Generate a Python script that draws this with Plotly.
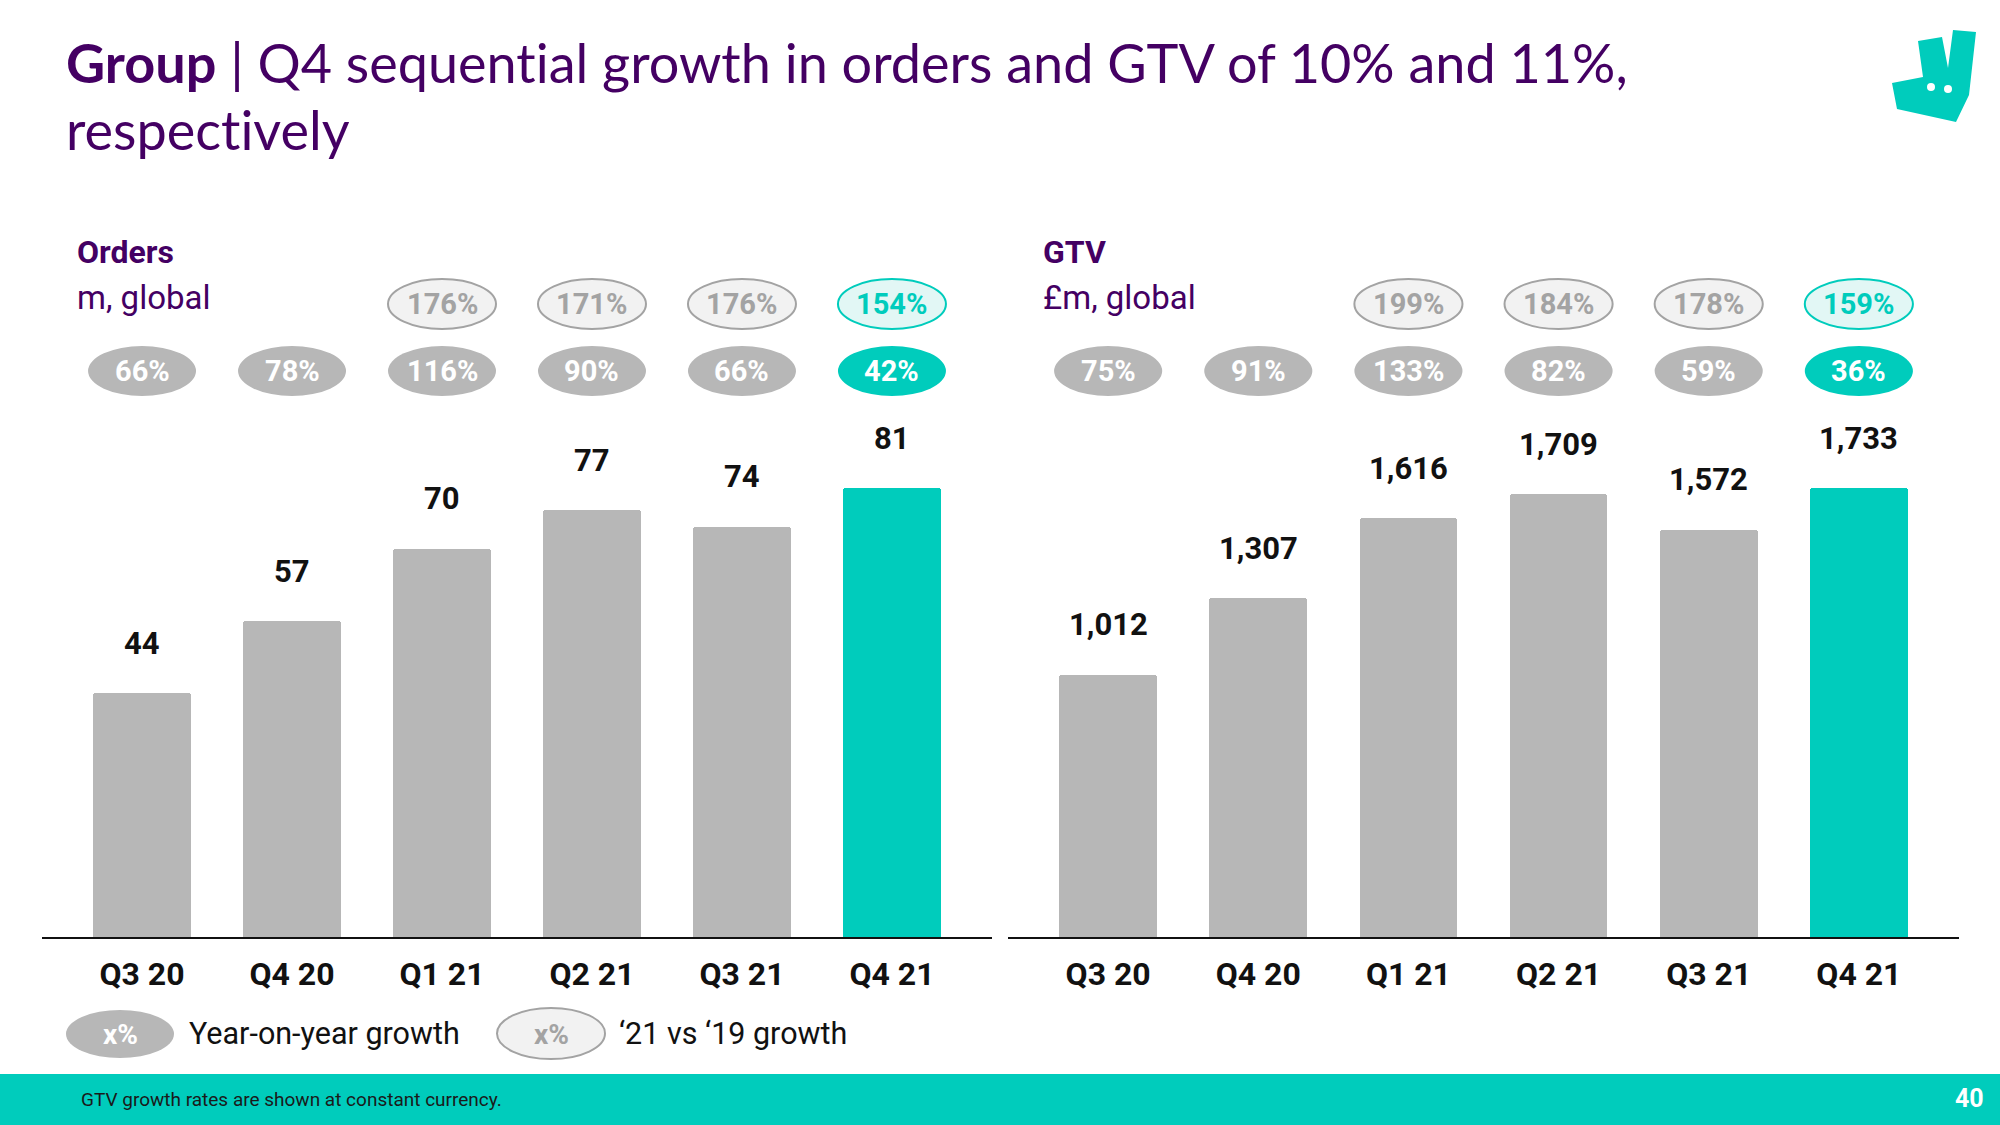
import plotly.graph_objects as go

# ---------------- data ----------------
quarters = ["Q3 20", "Q4 20", "Q1 21", "Q2 21", "Q3 21", "Q4 21"]
orders = [44, 57, 70, 77, 74, 81]
gtv = [1012, 1307, 1616, 1709, 1572, 1733]
orders_yoy = ["66%", "78%", "116%", "90%", "66%", "42%"]
orders_vs19 = [None, None, "176%", "171%", "176%", "154%"]
gtv_yoy = ["75%", "91%", "133%", "82%", "59%", "36%"]
gtv_vs19 = [None, None, "199%", "184%", "178%", "159%"]
highlight = [False, False, False, False, False, True]

# ---------------- styles ----------------
W, H = 2000, 1125
TEAL = "#00CCBC"
GREY_BAR = "#B7B7B7"
PURPLE = "#440063"
PILL_GREY = "#B7B7B7"
PILL_LIGHT = "#F2F2F2"
PILL_LINE = "#A3A3A3"
TEAL_LIGHT = "#E2F7F5"
FONT = "Roboto"

def px_x(p):
    return p / W

def px_y(p):
    return 1 - p / H

BASE_PX = 937
TOP_PX = 383
y_dom = [px_y(BASE_PX), px_y(TOP_PX)]
# bar scale: Q4 21 top at pixel 488
ord_max = orders[-1] * (BASE_PX - TOP_PX) / (BASE_PX - 488)
gtv_max = gtv[-1] * (BASE_PX - TOP_PX) / (BASE_PX - 488)

x_idx = list(range(len(quarters)))
xr = [-0.667, 5.667]

fig = go.Figure()
colors = [TEAL if h else GREY_BAR for h in highlight]

fig.add_trace(go.Bar(x=x_idx, y=orders, marker=dict(color=colors, line=dict(width=0), cornerradius=3),
                     width=0.65, xaxis="x", yaxis="y", hoverinfo="skip", showlegend=False))
fig.add_trace(go.Bar(x=x_idx, y=gtv, marker=dict(color=colors, line=dict(width=0), cornerradius=3),
                     width=0.65, xaxis="x2", yaxis="y2", hoverinfo="skip", showlegend=False))

annotations = []
shapes = []

def value_labels(vals, xa, ya, fmt):
    for i, v in enumerate(vals):
        annotations.append(dict(x=i, y=v, xref=xa, yref=ya, text=f"<b>{fmt(v)}</b>",
                                showarrow=False, yanchor="middle", yshift=50,
                                font=dict(family=FONT, size=31, color="#111111")))

value_labels(orders, "x", "y", lambda v: f"{v}")
value_labels(gtv, "x2", "y2", lambda v: f"{v:,}")

PILL_W = 0.72
def pills(yoy, vs19, xa):
    for i, (a, b) in enumerate(zip(yoy, vs19)):
        hl = highlight[i]
        # YoY pill
        cy, hh = px_y(371), 50 / H
        shapes.append(dict(type="circle", xref=xa, yref="paper", x0=i - PILL_W / 2, x1=i + PILL_W / 2,
                           y0=cy - hh / 2, y1=cy + hh / 2, fillcolor=TEAL if hl else PILL_GREY,
                           line=dict(width=0), layer="above"))
        annotations.append(dict(x=i, y=cy, xref=xa, yref="paper", text=f"<b>{a}</b>", showarrow=False,
                                font=dict(family=FONT, size=29, color="white"), yanchor="middle"))
        if b:
            cy2, hh2 = px_y(304), 50 / H
            shapes.append(dict(type="circle", xref=xa, yref="paper", x0=i - PILL_W / 2, x1=i + PILL_W / 2,
                               y0=cy2 - hh2 / 2, y1=cy2 + hh2 / 2,
                               fillcolor=TEAL_LIGHT if hl else PILL_LIGHT,
                               line=dict(width=2, color=TEAL if hl else PILL_LINE), layer="above"))
            annotations.append(dict(x=i, y=cy2, xref=xa, yref="paper", text=f"<b>{b}</b>", showarrow=False,
                                    font=dict(family=FONT, size=29, color=TEAL if hl else PILL_LINE),
                                    yanchor="middle"))

pills(orders_yoy, orders_vs19, "x")
pills(gtv_yoy, gtv_vs19, "x2")

# panel headers
def header(xpx, title, sub):
    annotations.append(dict(x=px_x(xpx), y=px_y(252), xref="paper", yref="paper", text=f"<b>{title}</b>",
                            showarrow=False, xanchor="left", yanchor="middle",
                            font=dict(family=FONT, size=32, color=PURPLE)))
    annotations.append(dict(x=px_x(xpx), y=px_y(297), xref="paper", yref="paper", text=sub,
                            showarrow=False, xanchor="left", yanchor="middle",
                            font=dict(family=FONT, size=33, color=PURPLE)))

header(75, "Orders", "m, global")
header(1041, "GTV", "£m, global")

# title (zero-width non-joiner avoids the "ti" ligature)
annotations.append(dict(x=px_x(64), y=px_y(62), xref="paper", yref="paper",
                        text="<b>Group</b> | Q4 sequent\u200cial growth in orders and GTV of 10% and 11%,",
                        showarrow=False, xanchor="left", yanchor="middle",
                        font=dict(family="Lato", size=54, color=PURPLE)))
annotations.append(dict(x=px_x(64), y=px_y(129), xref="paper", yref="paper",
                        text="respect\u200cively", showarrow=False, xanchor="left", yanchor="middle",
                        font=dict(family="Lato", size=54, color=PURPLE)))

# legend
shapes.append(dict(type="circle", xref="paper", yref="paper", x0=px_x(66), x1=px_x(174),
                   y0=px_y(1058), y1=px_y(1010), fillcolor=PILL_GREY, line=dict(width=0)))
annotations.append(dict(x=px_x(120), y=px_y(1034), xref="paper", yref="paper", text="<b>x%</b>",
                        showarrow=False, yanchor="middle", xanchor="center",
                        font=dict(family=FONT, size=28, color="white")))
annotations.append(dict(x=px_x(187), y=px_y(1033), xref="paper", yref="paper", text="Year-on-year growth",
                        showarrow=False, xanchor="left", yanchor="middle",
                        font=dict(family=FONT, size=30.5, color="#111111")))
shapes.append(dict(type="circle", xref="paper", yref="paper", x0=px_x(497), x1=px_x(605),
                   y0=px_y(1059), y1=px_y(1008), fillcolor=PILL_LIGHT, line=dict(width=2, color=PILL_LINE)))
annotations.append(dict(x=px_x(551), y=px_y(1034), xref="paper", yref="paper", text="<b>x%</b>",
                        showarrow=False, yanchor="middle", xanchor="center",
                        font=dict(family=FONT, size=28, color=PILL_LINE)))
annotations.append(dict(x=px_x(617), y=px_y(1033), xref="paper", yref="paper", text="\u201821 vs \u201819 growth",
                        showarrow=False, xanchor="left", yanchor="middle",
                        font=dict(family=FONT, size=30.5, color="#111111")))

# footer band
shapes.append(dict(type="rect", xref="paper", yref="paper", x0=0, x1=1, y0=0, y1=px_y(1074),
                   fillcolor=TEAL, line=dict(width=0), layer="below"))
annotations.append(dict(x=px_x(79), y=px_y(1099), xref="paper", yref="paper",
                        text="GTV growth rates are shown at constant currency.", showarrow=False,
                        xanchor="left", yanchor="middle", font=dict(family=FONT, size=19, color="#1a1a1a")))
annotations.append(dict(x=px_x(1986), y=px_y(1098), xref="paper", yref="paper", text="<b>40</b>",
                        showarrow=False, xanchor="right", yanchor="middle",
                        font=dict(family=FONT, size=25, color="white")))

# logo
logo_pts = [(1918, 41), (1942, 37), (1948, 68), (1953, 30), (1976, 32), (1969, 95),
            (1956, 122), (1897, 109), (1892, 83), (1923, 77)]
path = "M " + " L ".join(f"{px_x(a):.5f},{px_y(b):.5f}" for a, b in logo_pts) + " Z"
shapes.append(dict(type="path", xref="paper", yref="paper", path=path, fillcolor=TEAL, line=dict(width=0)))
for ex, ey in [(1931, 87), (1948, 89)]:
    shapes.append(dict(type="circle", xref="paper", yref="paper", x0=px_x(ex - 4), x1=px_x(ex + 4),
                       y0=px_y(ey + 4), y1=px_y(ey - 4), fillcolor="white", line=dict(width=0)))

axis_common = dict(range=xr, tickmode="array", tickvals=x_idx,
                   ticktext=[f"<b>{q}</b>" for q in quarters], showline=True, linecolor="#111111",
                   linewidth=2, ticks="", showgrid=False, zeroline=False, fixedrange=True,
                   tickfont=dict(family=FONT, size=32, color="#111111"), ticklabelstandoff=8)

fig.update_layout(
    width=W, height=H, margin=dict(l=0, r=0, t=0, b=0),
    paper_bgcolor="white", plot_bgcolor="rgba(0,0,0,0)",
    xaxis=dict(domain=[px_x(42), px_x(992)], anchor="y", **axis_common),
    xaxis2=dict(domain=[px_x(1008), px_x(1959)], anchor="y2", **axis_common),
    yaxis=dict(domain=y_dom, range=[0, ord_max], visible=False, anchor="x"),
    yaxis2=dict(domain=y_dom, range=[0, gtv_max], visible=False, anchor="x2"),
    annotations=annotations, shapes=shapes, bargap=0, showlegend=False,
)

fig.write_html("out.html")
